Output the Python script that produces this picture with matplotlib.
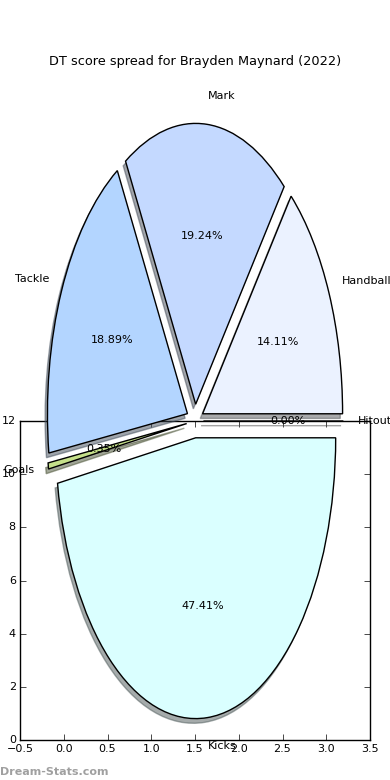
import matplotlib
matplotlib.use("Agg")
import matplotlib.pyplot as plt

plt.style.use("classic")
plt.rcParams['font.family'] = ['DejaVu Sans']

labels = ["Hitout", "Handball", "Mark", "Tackle", "Goals", "Kicks"]
values = [0.00, 14.11, 19.24, 18.89, 0.35, 47.41]
colors = ["#D0D0D0", "#EBF2FF", "#C4D9FF", "#B3D5FF", "#C5E08A", "#DAFFFF"]
explode = [0.06] * len(values)

x_ticks = [-0.5, 0.0, 0.5, 1.0, 1.5, 2.0, 2.5, 3.0, 3.5]
y_ticks = [0, 2, 4, 6, 8, 10, 12]

fig = plt.figure(figsize=(3.9, 7.8), dpi=100, facecolor="white")

ax_frame = fig.add_axes([20/390, 40/780, 350/390, 319/780])
ax_frame.set_facecolor("white")
ax_frame.set_xlim(x_ticks[0], x_ticks[-1])
ax_frame.set_ylim(y_ticks[0], y_ticks[-1])
ax_frame.set_xticks(x_ticks)
ax_frame.set_yticks(y_ticks)
ax_frame.tick_params(labelsize=8, pad=3)

ax_pie = fig.add_axes([20/390, 8/780, 350/390, 702/780])
ax_pie.set_facecolor("none")
ax_pie.pie(values, labels=labels, colors=colors, explode=explode,
           autopct="%1.2f%%", shadow={"ox": -0.012, "oy": -0.012, "shade": 0.65},
           startangle=0, textprops={"fontsize": 8})
ax_pie.set_aspect("auto")
ax_pie.set_xlim(-1.25, 1.25)
ax_pie.set_ylim(-1.25, 1.25)
ax_pie.set_title("DT score spread for Brayden Maynard (2022)", fontsize=9.3, pad=3.5)

fig.text(0.0, 3/780, "Dream-Stats.com", color="#A0A0A0", fontsize=8,
         fontweight="bold", ha="left", va="bottom")

fig.savefig("out.png", dpi=100, facecolor="white")
